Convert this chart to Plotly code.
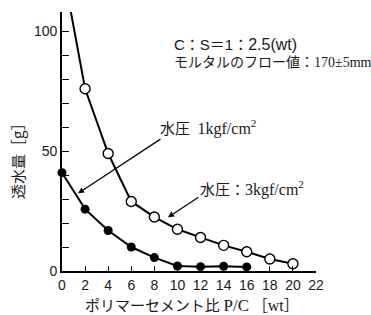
import plotly.graph_objects as go

# Data
pc_3kgf = [0, 2, 4, 6, 8, 10, 12, 14, 16, 18, 20]
water_3kgf = [128, 76, 49, 29, 22.5, 17.4, 14, 10.7, 8, 5, 3]
pc_1kgf = [0, 2, 4, 6, 8, 10, 12, 14, 16]
water_1kgf = [41, 25.8, 16.9, 10, 5.6, 2.1, 1.8, 2, 1.7]

x_ticks = list(range(0, 23, 2))
y_ticks = [0, 50, 100]

TXT = "#1a1a1a"
JP = "Liberation Serif, Noto Sans CJK JP"

W, H = 371, 315
ML, MR, MT, MB = 62, 55, 12, 44
PW, PH = W - ML - MR, H - MT - MB


def px(x, y):
    return (x - ML) / PW, (H - MB - y) / PH


fig = go.Figure()
fig.add_trace(go.Scatter(
    x=pc_3kgf, y=water_3kgf, mode="lines+markers",
    line=dict(color="black", width=2),
    marker=dict(symbol="circle", size=10, color="white",
                line=dict(color="black", width=1.4)),
    cliponaxis=True, showlegend=False, hoverinfo="skip"))
fig.add_trace(go.Scatter(
    x=pc_1kgf, y=water_1kgf, mode="lines+markers",
    line=dict(color="black", width=2),
    marker=dict(symbol="circle", size=9, color="black"),
    cliponaxis=False, showlegend=False, hoverinfo="skip"))

fig.update_layout(
    width=W, height=H,
    margin=dict(l=ML, r=MR, t=MT, b=MB),
    paper_bgcolor="white", plot_bgcolor="white",
    font=dict(family="Liberation Sans, Noto Sans CJK JP", size=14, color=TXT),
    xaxis=dict(range=[0, 22], tickvals=x_ticks, ticks="inside", ticklen=5,
               tickwidth=1.3, tickcolor="black", showline=True,
               linecolor="black", linewidth=1.6, showgrid=False,
               zeroline=False, tickfont=dict(size=14, color=TXT)),
    yaxis=dict(range=[0, 108], tickvals=y_ticks, ticks="inside", ticklen=7,
               tickwidth=1.3, tickcolor="black", showline=True,
               linecolor="black", linewidth=1.6, showgrid=False,
               zeroline=False, tickfont=dict(size=14, color=TXT),
               minor=dict(dtick=10, ticks="inside", ticklen=7,
                          tickcolor="black", tickwidth=1.3, showgrid=False)),
)

# axis titles
tx, ty = px(192, 305)
fig.add_annotation(x=tx, y=ty, xref="paper", yref="paper",
                   text="ポリマーセメント比 <span style='font-size:17px'>P/C</span> ［<span style='font-size:16px'>wt</span>］",
                   showarrow=False,
                   font=dict(family=JP, size=15, color=TXT),
                   xanchor="center", yanchor="middle")
tx, ty = px(17, 158)
fig.add_annotation(x=tx, y=ty, xref="paper", yref="paper",
                   text="透水量［g］", showarrow=False, textangle=-90,
                   font=dict(family="Noto Sans CJK JP", size=15, color=TXT),
                   xanchor="center", yanchor="middle")

fig.add_annotation(x=9.5, y=94.5,
                   text="C：S＝1：<span style='font-size:16px'>2.5(wt)</span>",
                   showarrow=False, xanchor="left", yanchor="middle",
                   font=dict(family="Liberation Sans, Noto Sans CJK JP", size=15, color=TXT))
fig.add_annotation(x=9.5, y=87, text="モルタルのフロー値：170±5mm",
                   showarrow=False, xanchor="left", yanchor="middle",
                   font=dict(family=JP, size=14, color=TXT))

fig.add_annotation(x=8.3, y=60,
                   text="水圧\u2002<span style='font-size:16px'>1kgf/cm<sup>2</sup></span>",
                   showarrow=False, xanchor="left", yanchor="middle",
                   font=dict(family=JP, size=15, color=TXT))
fig.add_annotation(x=11.8, y=34.5,
                   text="水圧：<span style='font-size:16px'>3kgf/cm<sup>2</sup></span>",
                   showarrow=False, xanchor="left", yanchor="middle",
                   font=dict(family=JP, size=15, color=TXT))

# arrows
fig.add_annotation(x=1.39, y=32.4, ax=8.66, ay=55.4, axref="x", ayref="y",
                   xref="x", yref="y", text="", showarrow=True,
                   arrowhead=2, arrowsize=1, arrowwidth=1.2, arrowcolor="black")
fig.add_annotation(x=9.18, y=22.4, ax=11.95, ay=31.2, axref="x", ayref="y",
                   xref="x", yref="y", text="", showarrow=True,
                   arrowhead=2, arrowsize=1, arrowwidth=1.2, arrowcolor="black")

fig.write_html("out.html",
               config={"displayModeBar": False},
               post_script="document.body.style.margin='0';"
                           "document.body.style.padding='0';")
